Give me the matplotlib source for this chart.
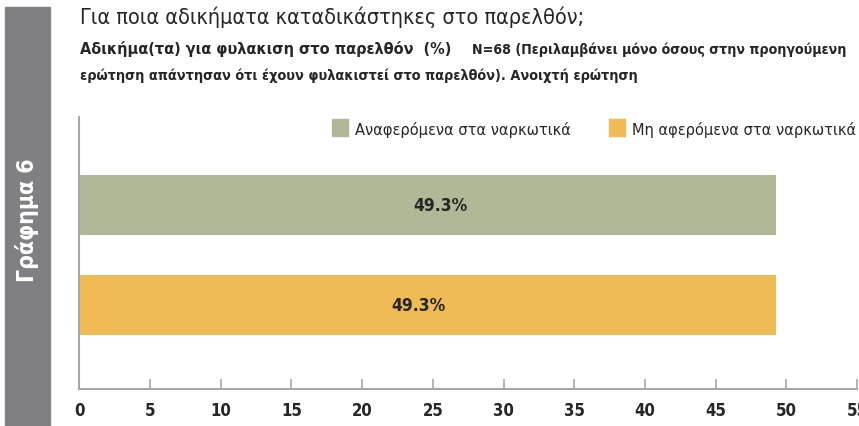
import matplotlib
matplotlib.use("Agg")
import matplotlib.pyplot as plt
from matplotlib.patches import Rectangle

plt.rcParams['font.family'] = ['DejaVu Sans']
plt.rcParams['font.stretch'] = 'condensed'

categories = ["Μη αφερόμενα στα ναρκωτικά", "Αναφερόμενα στα ναρκωτικά"]
values = [49.3, 49.3]
colors = ["#F0BA55", "#B1B897"]
xticks = list(range(0, 60, 5))

title = "Για ποια αδικήματα καταδικάστηκες στο παρελθόν;"
subtitle1a = "Αδικήμα(τα) για φυλακιση στο παρελθόν  (%)"
subtitle1b = "N=68 (Περιλαμβάνει μόνο όσους στην προηγούμενη"
subtitle2 = "ερώτηση απάντησαν ότι έχουν φυλακιστεί στο παρελθόν). Ανοιχτή ερώτηση"
side_label = "Γράφημα 6"

W, H = 859, 427
dark = "#262626"

fig = plt.figure(figsize=(W / 100, H / 100), dpi=100)

def fx(px):
    return px / W

def fy(py):
    return 1 - py / H

# grey side band
fig.patches.append(Rectangle((fx(5), 0), fx(45), fy(8),
                             transform=fig.transFigure, color="#808084", zorder=0))
fig.text(fx(27), fy(220), side_label, rotation=90, color="white",
         fontsize=16.5, fontweight="bold", ha="center", va="center")

fig.text(fx(80), fy(24), title, fontsize=15.5, color=dark,
         ha="left", va="baseline")
fig.text(fx(80), fy(54), subtitle1a, fontsize=11.6, fontweight="bold",
         color=dark, ha="left", va="baseline")
fig.text(fx(472), fy(54), subtitle1b, fontsize=10.2, fontweight="bold",
         color=dark, ha="left", va="baseline")
fig.text(fx(80), fy(80), subtitle2, fontsize=10.4, fontweight="bold",
         color=dark, ha="left", va="baseline")

ax = fig.add_axes([fx(79.4), fy(389.6), fx(777.6), 271.6 / H])
ypos = list(range(len(values)))
ax.barh(ypos, values, height=0.6, color=colors)
label_shift = [-0.7, 0.9]
for y, v, dx in zip(ypos, values, label_shift):
    ax.text(v / 2 + dx, y, f"{v}%", ha="center", va="center",
            fontsize=12.5, fontweight="bold", color=dark)

ax.set_xlim(0, 55)
ax.set_ylim(-0.84, 1.88)
ax.set_xticks(xticks)
ax.set_xticklabels([str(t) for t in xticks], fontsize=12, fontweight="bold",
                   color=dark)
ax.set_yticks([])
ax.tick_params(axis="x", direction="in", length=7, width=1.2, color="#A8A8AC", pad=9)
for s in ["top", "right"]:
    ax.spines[s].set_visible(False)
for s in ["left", "bottom"]:
    ax.spines[s].set_color("#A8A8AC")
    ax.spines[s].set_linewidth(1.5)

# legend: square markers + labels placed in figure pixels
leg_items = [(332, categories[1], colors[1]), (609, categories[0], colors[0])]
for x0, lab, col in leg_items:
    fig.patches.append(Rectangle((fx(x0), fy(137)), fx(16), 17 / H,
                                 transform=fig.transFigure, color=col))
    fig.text(fx(x0 + 23), fy(135), lab, fontsize=11.7,
             color=dark, ha="left", va="baseline")

fig.savefig("out.png", dpi=100)
